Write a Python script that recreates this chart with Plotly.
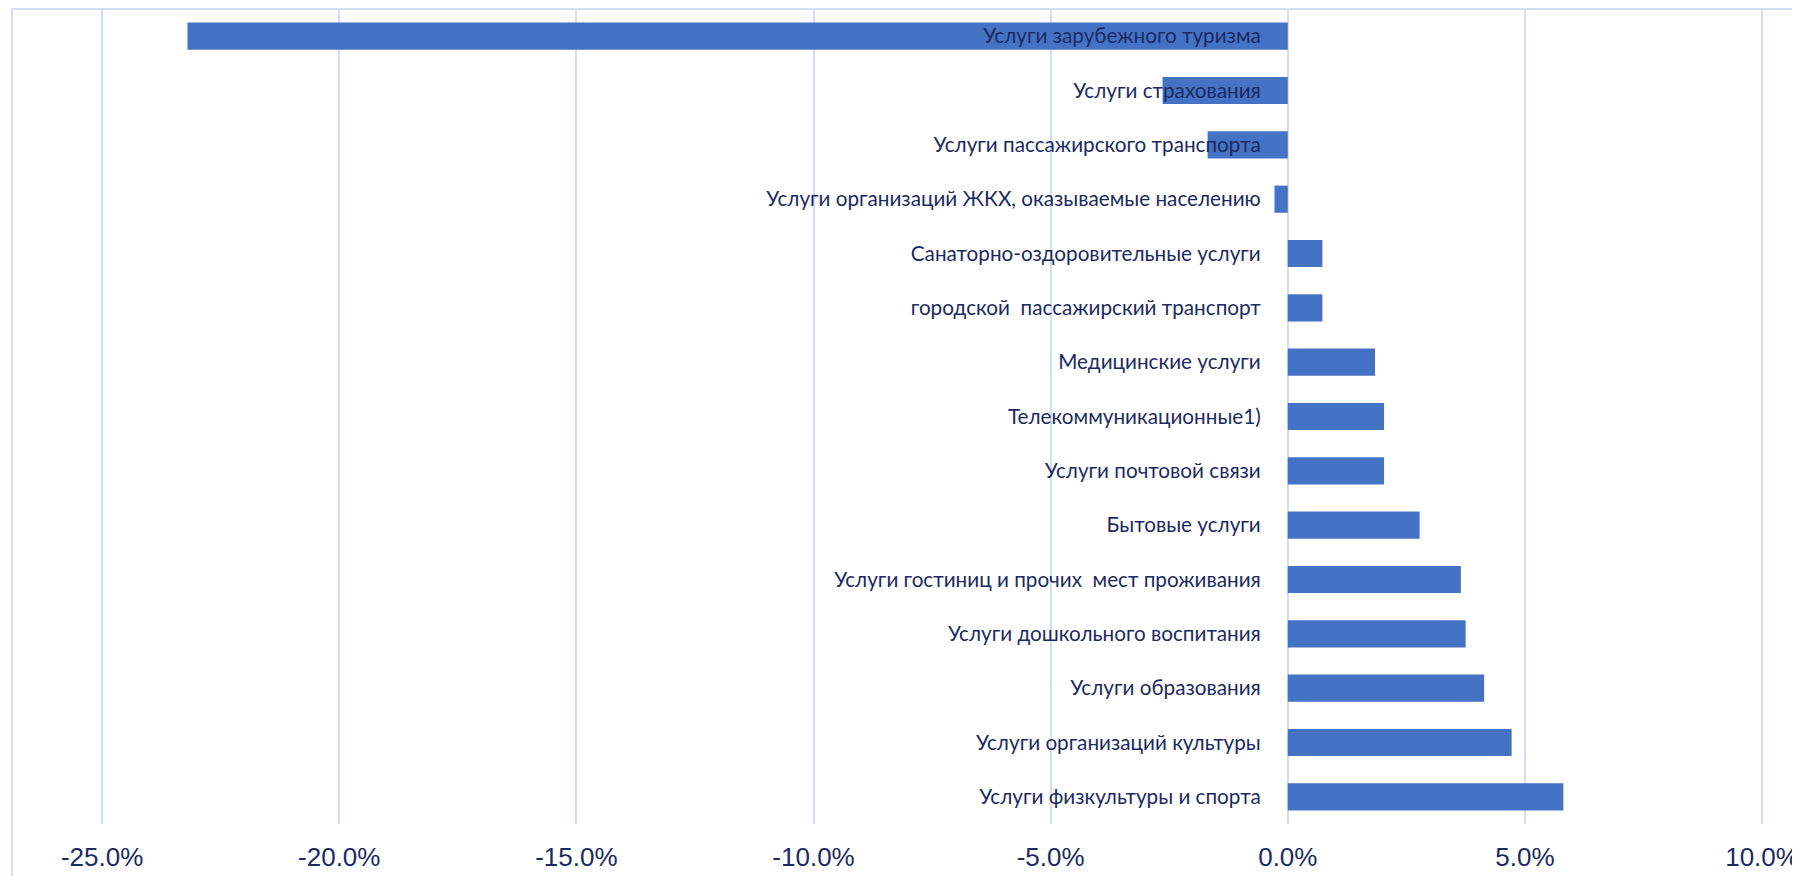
import plotly.graph_objects as go

categories = [
    "Услуги зарубежного туризма",
    "Услуги страхования",
    "Услуги пассажирского транспорта",
    "Услуги организаций ЖКХ, оказываемые населению",
    "Санаторно-оздоровительные услуги",
    "городской  пассажирский транспорт",
    "Медицинские услуги",
    "Телекоммуникационные1)",
    "Услуги почтовой связи",
    "Бытовые услуги",
    "Услуги гостиниц и прочих  мест проживания",
    "Услуги дошкольного воспитания",
    "Услуги образования",
    "Услуги организаций культуры",
    "Услуги физкультуры и спорта",
]
values = [-23.2, -2.64, -1.69, -0.28, 0.73, 0.73, 1.84, 2.03, 2.03, 2.78, 3.65, 3.75, 4.14, 4.72, 5.81]

tick_vals = [-25, -20, -15, -10, -5, 0, 5, 10]
tick_text = ["-25.0%", "-20.0%", "-15.0%", "-10.0%", "-5.0%", "0.0%", "5.0%", "10.0%"]

# page body has an 8px margin, so the figure is sized to fill the rest of the window
W, H = 1792, 868
ML, MR, MT, MB = 4, 0, 1, 52
x_min, x_max = -26.9, 10.8

TEXT = "#1C2A62"
GRID = "#D3DEF5"
BAR = "#4472C4"

fig = go.Figure(go.Bar(
    x=values,
    y=categories,
    orientation="h",
    marker=dict(color=BAR, line=dict(width=0)),
    hoverinfo="x+y",
))

zero_pos = (0 - x_min) / (x_max - x_min)

fig.update_layout(
    width=W, height=H,
    margin=dict(l=ML, r=MR, t=MT, b=MB, pad=0, autoexpand=False),
    paper_bgcolor="white",
    plot_bgcolor="white",
    bargap=0.5,
    showlegend=False,
    xaxis=dict(
        range=[x_min, x_max],
        tickvals=tick_vals,
        ticktext=tick_text,
        showgrid=True,
        gridcolor=GRID,
        gridwidth=2,
        zeroline=False,
        showline=False,
        ticks="",
        automargin=False,
        ticklabelstandoff=15,
        tickfont=dict(family="Liberation Sans", size=26, color=TEXT),
    ),
    yaxis=dict(
        categoryorder="array",
        categoryarray=categories,
        autorange=False,
        range=[len(categories) - 0.5, -0.5],
        anchor="free",
        position=zero_pos,
        showgrid=False,
        zeroline=False,
        showline=False,
        ticks="",
        automargin=False,
        ticklabelstandoff=27,
        tickfont=dict(family="Lato", size=20.7, color=TEXT),
    ),
    shapes=[
        dict(type="line", xref="paper", yref="paper", x0=0, x1=1.0,
             y0=1, y1=1, line=dict(color=GRID, width=2)),
        dict(type="line", xref="paper", yref="paper", x0=0, x1=0,
             y0=1, y1=-MB / (H - MT - MB), line=dict(color=GRID, width=2)),
    ],
)

fig.write_html("out.html")
